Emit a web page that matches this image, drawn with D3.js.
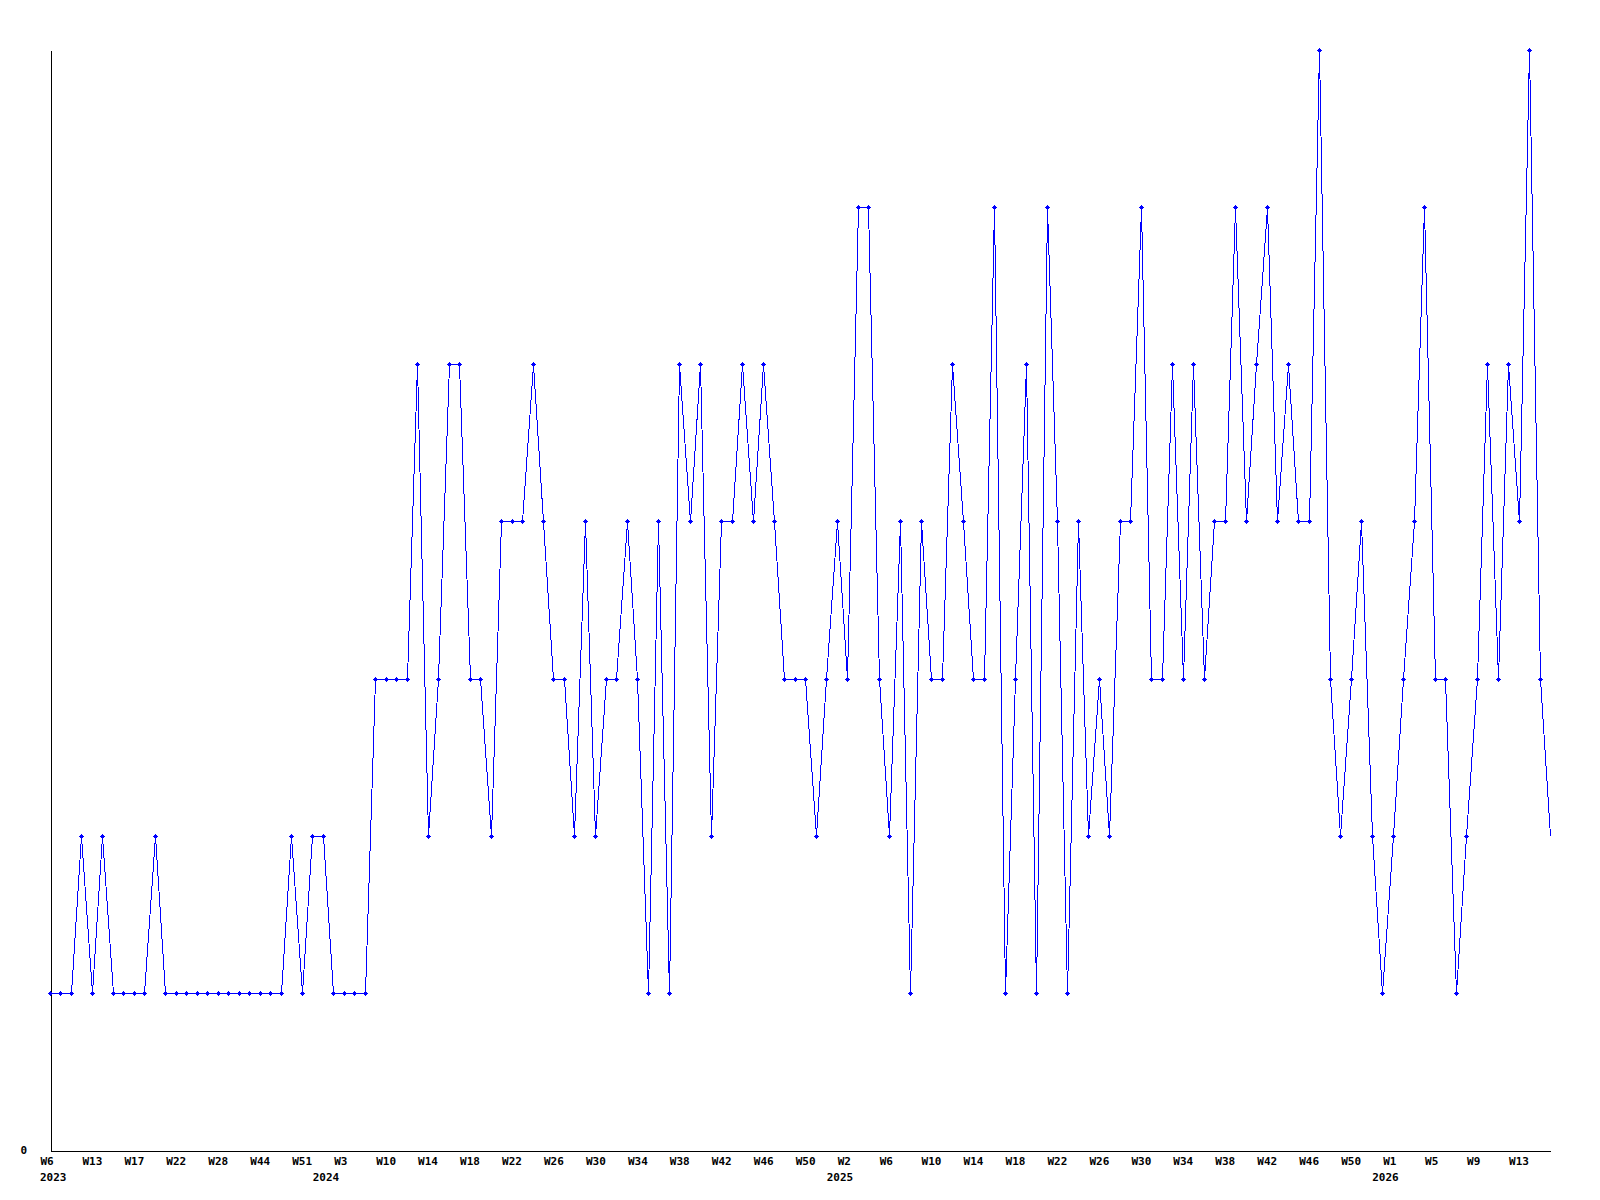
<!DOCTYPE html>
<html lang="en">
<head>
    <meta charset="UTF-8">
    <title>Weekly</title>
    <style>
        body { margin: 0; background: #fff; }
        text { font-family: "DejaVu Sans Mono", monospace; font-weight: bold; font-size: 11px; fill: #000; }
    </style>
</head>
<body>
<div id="graph"></div>

<script src="https://cdnjs.cloudflare.com/ajax/libs/d3/7.8.5/d3.min.js"></script>

<script>
    //one value per week (the last one has no marker, week still running)
    const values = [
        1, 1, 1, 2, 1, 2, 1, 1, 1, 1, 2, 1, 1, 1, 1, 1, 1, 1, 1, 1, 1, 1, 1, 2, 1, 2, 2, 1, 1, 1,
        1, 3, 3, 3, 3, 5, 2, 3, 5, 5, 3, 3, 2, 4, 4, 4, 5, 4, 3, 3, 2, 4, 2, 3, 3, 4, 3, 1, 4, 1,
        5, 4, 5, 2, 4, 4, 5, 4, 5, 4, 3, 3, 3, 2, 3, 4, 3, 6, 6, 3, 2, 4, 1, 4, 3, 3, 5, 4, 3, 3,
        6, 1, 3, 5, 1, 6, 4, 1, 4, 2, 3, 2, 4, 4, 6, 3, 3, 5, 3, 5, 3, 4, 4, 6, 4, 5, 6, 4, 5, 4,
        4, 7, 3, 2, 3, 4, 2, 1, 2, 3, 4, 6, 3, 3, 1, 2, 3, 5, 3, 5, 4, 7, 3, 2
    ];

    //week labels, one every 4 points
    const weekLabels = [
        "W6", "W13", "W17", "W22", "W28", "W44", "W51",
        "W3", "W10", "W14", "W18", "W22", "W26", "W30", "W34", "W38", "W42", "W46", "W50",
        "W2", "W6", "W10", "W14", "W18", "W22", "W26", "W30", "W34", "W38", "W42", "W46", "W50",
        "W1", "W5", "W9", "W13"
    ];
    const labelEvery = 4;

    //year labels and the point where each year starts
    const years = ["2023", "2024", "2025", "2026"];
    const yearStart = [0, 26, 75, 127];

    const yMax = 7;

    const svg = d3.select("#graph")
        .append("svg")
        .attr("width", 1600)
        .attr("height", 1200);

    const x = d3.scaleLinear()
        .domain([0, values.length - 1])
        .range([50.5, 1550.5]);

    const y = d3.scaleLinear()
        .domain([0, yMax])
        .range([1150.5, 50.5]);

    //y axis, only the zero is written
    svg.append("g")
        .attr("transform", "translate(50.5,0)")
        .call(d3.axisLeft(y).tickValues([0]).tickFormat(d3.format("d"))
            .tickSize(0).tickSizeOuter(0))
        .call(g => g.select(".domain").attr("stroke", "#000").attr("shape-rendering", "crispEdges"))
        .call(g => g.selectAll("text")
            .attr("font-family", null).attr("font-size", null)
            .attr("text-anchor", "start").attr("x", -30).attr("dy", "0.3em"));

    //x axis, by point index
    const tickIdx = weekLabels.map((d, i) => i * labelEvery);
    svg.append("g")
        .attr("transform", "translate(0,1150.5)")
        .call(d3.axisBottom(x)
            .tickValues(tickIdx)
            .tickFormat((d, i) => weekLabels[i])
            .tickSize(0).tickSizeOuter(0).tickPadding(0))
        .call(g => g.select(".domain").attr("stroke", "#000").attr("shape-rendering", "crispEdges"))
        .call(g => g.selectAll("text")
            .attr("font-family", null).attr("font-size", null)
            .attr("text-anchor", "start").attr("dx", -10.5).attr("dy", 0).attr("y", 14.5));

    svg.append("g")
        .selectAll("text")
        .data(years)
        .join("text")
        .attr("x", (d, i) => x(yearStart[i]) - 10.5)
        .attr("y", 1181)
        .text(d => d);

    //the line
    const line = d3.line()
        .x((d, i) => Math.round(x(i) - 0.5) + 0.5)
        .y(d => y(d));

    svg.append("path")
        .datum(values)
        .attr("d", line)
        .attr("fill", "none")
        .attr("stroke", "#0000ff")
        .attr("stroke-width", 1)
        .attr("shape-rendering", "crispEdges");

    //small plus shaped markers
    const marker = "M-2.5,-0.5H2.5V0.5H-2.5Z M-0.5,-2.5H0.5V2.5H-0.5Z M-1.5,-1.5H1.5V1.5H-1.5Z";
    svg.append("g")
        .selectAll("path")
        .data(values.slice(0, values.length - 1))
        .join("path")
        .attr("transform", (d, i) => "translate(" + (Math.round(x(i) - 0.5) + 0.5) + "," + y(d) + ")")
        .attr("d", marker)
        .attr("fill", "#0000ff")
        .attr("shape-rendering", "crispEdges");
</script>
</body>
</html>
